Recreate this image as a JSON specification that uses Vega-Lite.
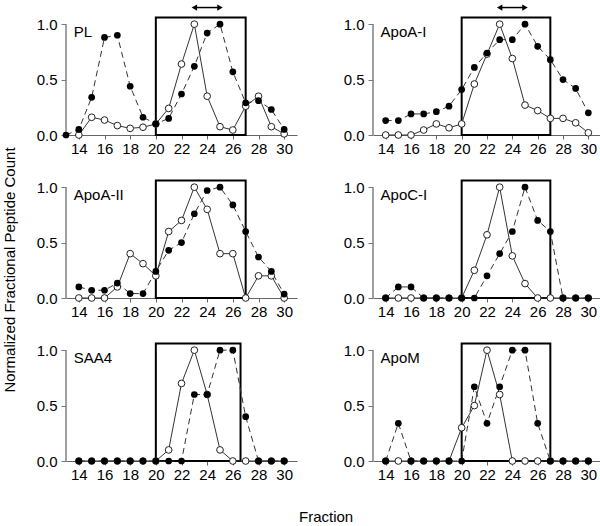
{
  "$schema": "https://vega.github.io/schema/vega-lite/v6.json",
  "background": "white",
  "padding": {"left": 3, "top": 2, "right": 1, "bottom": 0},
  "config": {
    "view": {"stroke": null},
    "font": "Liberation Sans",
    "axisX": {"tickCount": 9, "grid": false, "domainColor": "#666", "tickColor": "#666", "tickSize": 4, "labelFontSize": 15, "labelPadding": 2, "labelColor": "black", "labelFont": "Liberation Sans", "labelFlush": false},
    "axisY": {"tickCount": 3, "grid": false, "domain": false, "tickColor": "#777", "tickSize": 5, "labelFontSize": 15, "labelPadding": 4, "labelColor": "black", "labelFont": "Liberation Sans"}
  },
  "title": {"text": "Fraction", "orient": "bottom", "anchor": "middle", "fontSize": 15, "fontWeight": "normal", "font": "Liberation Sans", "color": "black", "offset": 28, "dx": 24},
  "data": {"values": [
    {"p":"PL","k":"box","x":20,"x2":27},
    {"p":"ApoA-I","k":"box","x":20,"x2":27},
    {"p":"ApoA-II","k":"box","x":20,"x2":27},
    {"p":"ApoC-I","k":"box","x":20,"x2":27},
    {"p":"SAA4","k":"box","x":20,"x2":26.6},
    {"p":"ApoM","k":"box","x":20,"x2":27},
    {"p":"PL","k":"arr","x":23,"x2":25},
    {"p":"ApoA-I","k":"arr","x":23,"x2":25},

    {"p":"PL","k":"pt","s":"f","x":13,"y":0},
    {"p":"PL","k":"pt","s":"f","x":14,"y":0.05},
    {"p":"PL","k":"pt","s":"f","x":15,"y":0.34},
    {"p":"PL","k":"pt","s":"f","x":16,"y":0.88},
    {"p":"PL","k":"pt","s":"f","x":17,"y":0.9},
    {"p":"PL","k":"pt","s":"f","x":18,"y":0.44},
    {"p":"PL","k":"pt","s":"f","x":19,"y":0.16},
    {"p":"PL","k":"pt","s":"f","x":20,"y":0.1},
    {"p":"PL","k":"pt","s":"f","x":21,"y":0.15},
    {"p":"PL","k":"pt","s":"f","x":22,"y":0.37},
    {"p":"PL","k":"pt","s":"f","x":23,"y":0.62},
    {"p":"PL","k":"pt","s":"f","x":24,"y":0.92},
    {"p":"PL","k":"pt","s":"f","x":25,"y":1},
    {"p":"PL","k":"pt","s":"f","x":26,"y":0.57},
    {"p":"PL","k":"pt","s":"f","x":27,"y":0.29},
    {"p":"PL","k":"pt","s":"f","x":28,"y":0.31},
    {"p":"PL","k":"pt","s":"f","x":29,"y":0.23},
    {"p":"PL","k":"pt","s":"f","x":30,"y":0.05},
    {"p":"PL","k":"pt","s":"o","x":14,"y":0},
    {"p":"PL","k":"pt","s":"o","x":15,"y":0.16},
    {"p":"PL","k":"pt","s":"o","x":16,"y":0.135},
    {"p":"PL","k":"pt","s":"o","x":17,"y":0.085},
    {"p":"PL","k":"pt","s":"o","x":18,"y":0.06},
    {"p":"PL","k":"pt","s":"o","x":19,"y":0.07},
    {"p":"PL","k":"pt","s":"o","x":20,"y":0.1},
    {"p":"PL","k":"pt","s":"o","x":21,"y":0.24},
    {"p":"PL","k":"pt","s":"o","x":22,"y":0.64},
    {"p":"PL","k":"pt","s":"o","x":23,"y":1},
    {"p":"PL","k":"pt","s":"o","x":24,"y":0.35},
    {"p":"PL","k":"pt","s":"o","x":25,"y":0.075},
    {"p":"PL","k":"pt","s":"o","x":26,"y":0.045},
    {"p":"PL","k":"pt","s":"o","x":27,"y":0.26},
    {"p":"PL","k":"pt","s":"o","x":28,"y":0.35},
    {"p":"PL","k":"pt","s":"o","x":29,"y":0.075},
    {"p":"PL","k":"pt","s":"o","x":30,"y":0.01},

    {"p":"ApoA-I","k":"pt","s":"f","x":14,"y":0.13},
    {"p":"ApoA-I","k":"pt","s":"f","x":15,"y":0.13},
    {"p":"ApoA-I","k":"pt","s":"f","x":16,"y":0.19},
    {"p":"ApoA-I","k":"pt","s":"f","x":17,"y":0.19},
    {"p":"ApoA-I","k":"pt","s":"f","x":18,"y":0.21},
    {"p":"ApoA-I","k":"pt","s":"f","x":19,"y":0.26},
    {"p":"ApoA-I","k":"pt","s":"f","x":20,"y":0.41},
    {"p":"ApoA-I","k":"pt","s":"f","x":21,"y":0.61},
    {"p":"ApoA-I","k":"pt","s":"f","x":22,"y":0.74},
    {"p":"ApoA-I","k":"pt","s":"f","x":23,"y":0.86},
    {"p":"ApoA-I","k":"pt","s":"f","x":24,"y":0.86},
    {"p":"ApoA-I","k":"pt","s":"f","x":25,"y":1},
    {"p":"ApoA-I","k":"pt","s":"f","x":26,"y":0.8},
    {"p":"ApoA-I","k":"pt","s":"f","x":27,"y":0.68},
    {"p":"ApoA-I","k":"pt","s":"f","x":28,"y":0.5},
    {"p":"ApoA-I","k":"pt","s":"f","x":29,"y":0.42},
    {"p":"ApoA-I","k":"pt","s":"f","x":30,"y":0.2},
    {"p":"ApoA-I","k":"pt","s":"o","x":14,"y":0},
    {"p":"ApoA-I","k":"pt","s":"o","x":15,"y":0},
    {"p":"ApoA-I","k":"pt","s":"o","x":16,"y":0},
    {"p":"ApoA-I","k":"pt","s":"o","x":17,"y":0.045},
    {"p":"ApoA-I","k":"pt","s":"o","x":18,"y":0.1},
    {"p":"ApoA-I","k":"pt","s":"o","x":19,"y":0.065},
    {"p":"ApoA-I","k":"pt","s":"o","x":20,"y":0.1},
    {"p":"ApoA-I","k":"pt","s":"o","x":21,"y":0.46},
    {"p":"ApoA-I","k":"pt","s":"o","x":22,"y":0.73},
    {"p":"ApoA-I","k":"pt","s":"o","x":23,"y":1},
    {"p":"ApoA-I","k":"pt","s":"o","x":24,"y":0.69},
    {"p":"ApoA-I","k":"pt","s":"o","x":25,"y":0.27},
    {"p":"ApoA-I","k":"pt","s":"o","x":26,"y":0.22},
    {"p":"ApoA-I","k":"pt","s":"o","x":27,"y":0.15},
    {"p":"ApoA-I","k":"pt","s":"o","x":28,"y":0.15},
    {"p":"ApoA-I","k":"pt","s":"o","x":29,"y":0.11},
    {"p":"ApoA-I","k":"pt","s":"o","x":30,"y":0.02},

    {"p":"ApoA-II","k":"pt","s":"f","x":14,"y":0.1},
    {"p":"ApoA-II","k":"pt","s":"f","x":15,"y":0.07},
    {"p":"ApoA-II","k":"pt","s":"f","x":16,"y":0.07},
    {"p":"ApoA-II","k":"pt","s":"f","x":17,"y":0.135},
    {"p":"ApoA-II","k":"pt","s":"f","x":18,"y":0.04},
    {"p":"ApoA-II","k":"pt","s":"f","x":19,"y":0.04},
    {"p":"ApoA-II","k":"pt","s":"f","x":20,"y":0.24},
    {"p":"ApoA-II","k":"pt","s":"f","x":21,"y":0.43},
    {"p":"ApoA-II","k":"pt","s":"f","x":22,"y":0.5},
    {"p":"ApoA-II","k":"pt","s":"f","x":23,"y":0.76},
    {"p":"ApoA-II","k":"pt","s":"f","x":24,"y":0.97},
    {"p":"ApoA-II","k":"pt","s":"f","x":25,"y":1},
    {"p":"ApoA-II","k":"pt","s":"f","x":26,"y":0.84},
    {"p":"ApoA-II","k":"pt","s":"f","x":27,"y":0.6},
    {"p":"ApoA-II","k":"pt","s":"f","x":28,"y":0.37},
    {"p":"ApoA-II","k":"pt","s":"f","x":29,"y":0.24},
    {"p":"ApoA-II","k":"pt","s":"f","x":30,"y":0.035},
    {"p":"ApoA-II","k":"pt","s":"o","x":14,"y":0},
    {"p":"ApoA-II","k":"pt","s":"o","x":15,"y":0},
    {"p":"ApoA-II","k":"pt","s":"o","x":16,"y":0},
    {"p":"ApoA-II","k":"pt","s":"o","x":17,"y":0.1},
    {"p":"ApoA-II","k":"pt","s":"o","x":18,"y":0.4},
    {"p":"ApoA-II","k":"pt","s":"o","x":19,"y":0.31},
    {"p":"ApoA-II","k":"pt","s":"o","x":20,"y":0.2},
    {"p":"ApoA-II","k":"pt","s":"o","x":21,"y":0.6},
    {"p":"ApoA-II","k":"pt","s":"o","x":22,"y":0.7},
    {"p":"ApoA-II","k":"pt","s":"o","x":23,"y":1},
    {"p":"ApoA-II","k":"pt","s":"o","x":24,"y":0.8},
    {"p":"ApoA-II","k":"pt","s":"o","x":25,"y":0.4},
    {"p":"ApoA-II","k":"pt","s":"o","x":26,"y":0.4},
    {"p":"ApoA-II","k":"pt","s":"o","x":27,"y":0},
    {"p":"ApoA-II","k":"pt","s":"o","x":28,"y":0.2},
    {"p":"ApoA-II","k":"pt","s":"o","x":29,"y":0.2},
    {"p":"ApoA-II","k":"pt","s":"o","x":30,"y":0},

    {"p":"ApoC-I","k":"pt","s":"f","x":14,"y":0},
    {"p":"ApoC-I","k":"pt","s":"f","x":15,"y":0.1},
    {"p":"ApoC-I","k":"pt","s":"f","x":16,"y":0.1},
    {"p":"ApoC-I","k":"pt","s":"f","x":17,"y":0},
    {"p":"ApoC-I","k":"pt","s":"f","x":18,"y":0},
    {"p":"ApoC-I","k":"pt","s":"f","x":19,"y":0},
    {"p":"ApoC-I","k":"pt","s":"f","x":20,"y":0},
    {"p":"ApoC-I","k":"pt","s":"f","x":21,"y":0},
    {"p":"ApoC-I","k":"pt","s":"f","x":22,"y":0.2},
    {"p":"ApoC-I","k":"pt","s":"f","x":23,"y":0.4},
    {"p":"ApoC-I","k":"pt","s":"f","x":24,"y":0.6},
    {"p":"ApoC-I","k":"pt","s":"f","x":25,"y":1},
    {"p":"ApoC-I","k":"pt","s":"f","x":26,"y":0.7},
    {"p":"ApoC-I","k":"pt","s":"f","x":27,"y":0.6},
    {"p":"ApoC-I","k":"pt","s":"f","x":28,"y":0},
    {"p":"ApoC-I","k":"pt","s":"f","x":29,"y":0},
    {"p":"ApoC-I","k":"pt","s":"f","x":30,"y":0},
    {"p":"ApoC-I","k":"pt","s":"o","x":14,"y":0},
    {"p":"ApoC-I","k":"pt","s":"o","x":15,"y":0},
    {"p":"ApoC-I","k":"pt","s":"o","x":16,"y":0},
    {"p":"ApoC-I","k":"pt","s":"o","x":17,"y":0},
    {"p":"ApoC-I","k":"pt","s":"o","x":18,"y":0},
    {"p":"ApoC-I","k":"pt","s":"o","x":19,"y":0},
    {"p":"ApoC-I","k":"pt","s":"o","x":20,"y":0},
    {"p":"ApoC-I","k":"pt","s":"o","x":21,"y":0.25},
    {"p":"ApoC-I","k":"pt","s":"o","x":22,"y":0.57},
    {"p":"ApoC-I","k":"pt","s":"o","x":23,"y":1},
    {"p":"ApoC-I","k":"pt","s":"o","x":24,"y":0.38},
    {"p":"ApoC-I","k":"pt","s":"o","x":25,"y":0.13},
    {"p":"ApoC-I","k":"pt","s":"o","x":26,"y":0},
    {"p":"ApoC-I","k":"pt","s":"o","x":27,"y":0},
    {"p":"ApoC-I","k":"pt","s":"o","x":28,"y":0},
    {"p":"ApoC-I","k":"pt","s":"o","x":29,"y":0},
    {"p":"ApoC-I","k":"pt","s":"o","x":30,"y":0},

    {"p":"SAA4","k":"pt","s":"f","x":14,"y":0},
    {"p":"SAA4","k":"pt","s":"f","x":15,"y":0},
    {"p":"SAA4","k":"pt","s":"f","x":16,"y":0},
    {"p":"SAA4","k":"pt","s":"f","x":17,"y":0},
    {"p":"SAA4","k":"pt","s":"f","x":18,"y":0},
    {"p":"SAA4","k":"pt","s":"f","x":19,"y":0},
    {"p":"SAA4","k":"pt","s":"f","x":20,"y":0},
    {"p":"SAA4","k":"pt","s":"f","x":21,"y":0},
    {"p":"SAA4","k":"pt","s":"f","x":22,"y":0},
    {"p":"SAA4","k":"pt","s":"f","x":23,"y":0.6},
    {"p":"SAA4","k":"pt","s":"f","x":24,"y":0.6},
    {"p":"SAA4","k":"pt","s":"f","x":25,"y":1},
    {"p":"SAA4","k":"pt","s":"f","x":26,"y":1},
    {"p":"SAA4","k":"pt","s":"f","x":27,"y":0.4},
    {"p":"SAA4","k":"pt","s":"f","x":28,"y":0},
    {"p":"SAA4","k":"pt","s":"f","x":29,"y":0},
    {"p":"SAA4","k":"pt","s":"f","x":30,"y":0},
    {"p":"SAA4","k":"pt","s":"o","x":14,"y":0},
    {"p":"SAA4","k":"pt","s":"o","x":15,"y":0},
    {"p":"SAA4","k":"pt","s":"o","x":16,"y":0},
    {"p":"SAA4","k":"pt","s":"o","x":17,"y":0},
    {"p":"SAA4","k":"pt","s":"o","x":18,"y":0},
    {"p":"SAA4","k":"pt","s":"o","x":19,"y":0},
    {"p":"SAA4","k":"pt","s":"o","x":20,"y":0},
    {"p":"SAA4","k":"pt","s":"o","x":21,"y":0.1},
    {"p":"SAA4","k":"pt","s":"o","x":22,"y":0.7},
    {"p":"SAA4","k":"pt","s":"o","x":23,"y":1},
    {"p":"SAA4","k":"pt","s":"o","x":24,"y":0.6},
    {"p":"SAA4","k":"pt","s":"o","x":25,"y":0.1},
    {"p":"SAA4","k":"pt","s":"o","x":26,"y":0},
    {"p":"SAA4","k":"pt","s":"o","x":27,"y":0},
    {"p":"SAA4","k":"pt","s":"o","x":28,"y":0},
    {"p":"SAA4","k":"pt","s":"o","x":29,"y":0},
    {"p":"SAA4","k":"pt","s":"o","x":30,"y":0},

    {"p":"ApoM","k":"pt","s":"f","x":14,"y":0},
    {"p":"ApoM","k":"pt","s":"f","x":15,"y":0.34},
    {"p":"ApoM","k":"pt","s":"f","x":16,"y":0},
    {"p":"ApoM","k":"pt","s":"f","x":17,"y":0},
    {"p":"ApoM","k":"pt","s":"f","x":18,"y":0},
    {"p":"ApoM","k":"pt","s":"f","x":19,"y":0},
    {"p":"ApoM","k":"pt","s":"f","x":20,"y":0},
    {"p":"ApoM","k":"pt","s":"f","x":21,"y":0.67},
    {"p":"ApoM","k":"pt","s":"f","x":22,"y":0.34},
    {"p":"ApoM","k":"pt","s":"f","x":23,"y":0.67},
    {"p":"ApoM","k":"pt","s":"f","x":24,"y":1},
    {"p":"ApoM","k":"pt","s":"f","x":25,"y":1},
    {"p":"ApoM","k":"pt","s":"f","x":26,"y":0.34},
    {"p":"ApoM","k":"pt","s":"f","x":27,"y":0},
    {"p":"ApoM","k":"pt","s":"f","x":28,"y":0},
    {"p":"ApoM","k":"pt","s":"f","x":29,"y":0},
    {"p":"ApoM","k":"pt","s":"f","x":30,"y":0},
    {"p":"ApoM","k":"pt","s":"o","x":14,"y":0},
    {"p":"ApoM","k":"pt","s":"o","x":15,"y":0},
    {"p":"ApoM","k":"pt","s":"o","x":16,"y":0},
    {"p":"ApoM","k":"pt","s":"o","x":17,"y":0},
    {"p":"ApoM","k":"pt","s":"o","x":18,"y":0},
    {"p":"ApoM","k":"pt","s":"o","x":19,"y":0},
    {"p":"ApoM","k":"pt","s":"o","x":20,"y":0.3},
    {"p":"ApoM","k":"pt","s":"o","x":21,"y":0.5},
    {"p":"ApoM","k":"pt","s":"o","x":22,"y":1},
    {"p":"ApoM","k":"pt","s":"o","x":23,"y":0.6},
    {"p":"ApoM","k":"pt","s":"o","x":24,"y":0},
    {"p":"ApoM","k":"pt","s":"o","x":25,"y":0},
    {"p":"ApoM","k":"pt","s":"o","x":26,"y":0},
    {"p":"ApoM","k":"pt","s":"o","x":27,"y":0},
    {"p":"ApoM","k":"pt","s":"o","x":28,"y":0},
    {"p":"ApoM","k":"pt","s":"o","x":29,"y":0},
    {"p":"ApoM","k":"pt","s":"o","x":30,"y":0}
  ]},
  "vconcat": [
    {
      "title": {"text": "Normalized Fractional Peptide Count", "orient": "left", "anchor": "middle", "fontSize": 15, "fontWeight": "normal", "font": "Liberation Sans", "color": "black", "offset": 18, "dx": -28},
      "columns": 2,
      "spacing": {"row": 30, "column": 76},
      "bounds": "flush",
      "concat": [
        {"width": 231, "height": 133, "transform": [{"filter": "datum.p == 'PL'"}], "layer": [
          {"transform": [{"filter": "datum.k == 'box'"}], "mark": {"type": "rule", "color": "#808080", "strokeWidth": 1.5}, "encoding": {"x": {"datum": 13, "type": "quantitative", "scale": {"domain": [13, 31], "nice": false, "zero": false}, "title": null}, "y": {"datum": 0, "type": "quantitative", "scale": {"domain": [0, 1.2], "nice": false, "zero": false}, "title": null}, "y2": {"datum": 1}}},
          {"transform": [{"filter": "datum.k == 'box'"}], "mark": {"type": "rect", "fillOpacity": 0, "stroke": "black", "strokeWidth": 2}, "encoding": {"x": {"field": "x", "type": "quantitative", "scale": {"domain": [13, 31], "nice": false, "zero": false}, "title": null}, "x2": {"field": "x2"}, "y": {"datum": 0, "type": "quantitative", "scale": {"domain": [0, 1.2], "nice": false, "zero": false}, "title": null}, "y2": {"datum": 1.06}}},
          {"transform": [{"filter": "datum.k == 'box'"}], "mark": {"type": "text", "align": "left", "baseline": "top", "fontSize": 15, "font": "Liberation Sans", "color": "black"}, "encoding": {"x": {"datum": 13.6, "type": "quantitative", "scale": {"domain": [13, 31], "nice": false, "zero": false}, "title": null}, "y": {"datum": 0.99, "type": "quantitative", "scale": {"domain": [0, 1.2], "nice": false, "zero": false}, "title": null}, "text": {"field": "p"}}},
          {"transform": [{"filter": "datum.k == 'arr'"}], "mark": {"type": "rule", "color": "black", "strokeWidth": 1.5}, "encoding": {"x": {"field": "x", "type": "quantitative", "scale": {"domain": [13, 31], "nice": false, "zero": false}, "title": null}, "x2": {"field": "x2"}, "y": {"datum": 1.15, "type": "quantitative", "scale": {"domain": [0, 1.2], "nice": false, "zero": false}, "title": null}}},
          {"transform": [{"filter": "datum.k == 'arr'"}], "mark": {"type": "point", "shape": "triangle-left", "filled": true, "color": "black", "size": 40, "opacity": 1}, "encoding": {"x": {"field": "x", "type": "quantitative", "scale": {"domain": [13, 31], "nice": false, "zero": false}, "title": null}, "y": {"datum": 1.15, "type": "quantitative", "scale": {"domain": [0, 1.2], "nice": false, "zero": false}, "title": null}}},
          {"transform": [{"filter": "datum.k == 'arr'"}], "mark": {"type": "point", "shape": "triangle-right", "filled": true, "color": "black", "size": 40, "opacity": 1}, "encoding": {"x": {"field": "x2", "type": "quantitative", "scale": {"domain": [13, 31], "nice": false, "zero": false}, "title": null}, "y": {"datum": 1.15, "type": "quantitative", "scale": {"domain": [0, 1.2], "nice": false, "zero": false}, "title": null}}},
          {"transform": [{"filter": "datum.k == 'pt' && datum.s == 'o'"}], "mark": {"type": "line", "color": "#333", "strokeWidth": 1}, "encoding": {"x": {"field": "x", "type": "quantitative", "scale": {"domain": [13, 31], "nice": false, "zero": false}, "title": null}, "y": {"field": "y", "type": "quantitative", "scale": {"domain": [0, 1.2], "nice": false, "zero": false}, "title": null}}},
          {"transform": [{"filter": "datum.k == 'pt' && datum.s == 'f'"}], "mark": {"type": "line", "color": "#333", "strokeWidth": 1, "strokeDash": [6, 4]}, "encoding": {"x": {"field": "x", "type": "quantitative", "scale": {"domain": [13, 31], "nice": false, "zero": false}, "title": null}, "y": {"field": "y", "type": "quantitative", "scale": {"domain": [0, 1.2], "nice": false, "zero": false}, "title": null}}},
          {"transform": [{"filter": "datum.k == 'pt' && datum.s == 'o'"}], "mark": {"type": "point", "shape": "circle", "filled": true, "fill": "white", "stroke": "#222", "strokeWidth": 1, "size": 45, "opacity": 1}, "encoding": {"x": {"field": "x", "type": "quantitative", "scale": {"domain": [13, 31], "nice": false, "zero": false}, "title": null}, "y": {"field": "y", "type": "quantitative", "scale": {"domain": [0, 1.2], "nice": false, "zero": false}, "title": null}}},
          {"transform": [{"filter": "datum.k == 'pt' && datum.s == 'f'"}], "mark": {"type": "point", "shape": "circle", "filled": true, "color": "black", "size": 45, "opacity": 1}, "encoding": {"x": {"field": "x", "type": "quantitative", "scale": {"domain": [13, 31], "nice": false, "zero": false}, "title": null}, "y": {"field": "y", "type": "quantitative", "scale": {"domain": [0, 1.2], "nice": false, "zero": false}, "title": null}}}
        ]},
        {"width": 228, "height": 133, "transform": [{"filter": "datum.p == 'ApoA-I'"}], "layer": [
          {"transform": [{"filter": "datum.k == 'box'"}], "mark": {"type": "rule", "color": "#808080", "strokeWidth": 1.5}, "encoding": {"x": {"datum": 13, "type": "quantitative", "scale": {"domain": [13, 31], "nice": false, "zero": false}, "title": null}, "y": {"datum": 0, "type": "quantitative", "scale": {"domain": [0, 1.2], "nice": false, "zero": false}, "title": null}, "y2": {"datum": 1}}},
          {"transform": [{"filter": "datum.k == 'box'"}], "mark": {"type": "rect", "fillOpacity": 0, "stroke": "black", "strokeWidth": 2}, "encoding": {"x": {"field": "x", "type": "quantitative", "scale": {"domain": [13, 31], "nice": false, "zero": false}, "title": null}, "x2": {"field": "x2"}, "y": {"datum": 0, "type": "quantitative", "scale": {"domain": [0, 1.2], "nice": false, "zero": false}, "title": null}, "y2": {"datum": 1.06}}},
          {"transform": [{"filter": "datum.k == 'box'"}], "mark": {"type": "text", "align": "left", "baseline": "top", "fontSize": 15, "font": "Liberation Sans", "color": "black"}, "encoding": {"x": {"datum": 13.6, "type": "quantitative", "scale": {"domain": [13, 31], "nice": false, "zero": false}, "title": null}, "y": {"datum": 0.99, "type": "quantitative", "scale": {"domain": [0, 1.2], "nice": false, "zero": false}, "title": null}, "text": {"field": "p"}}},
          {"transform": [{"filter": "datum.k == 'arr'"}], "mark": {"type": "rule", "color": "black", "strokeWidth": 1.5}, "encoding": {"x": {"field": "x", "type": "quantitative", "scale": {"domain": [13, 31], "nice": false, "zero": false}, "title": null}, "x2": {"field": "x2"}, "y": {"datum": 1.15, "type": "quantitative", "scale": {"domain": [0, 1.2], "nice": false, "zero": false}, "title": null}}},
          {"transform": [{"filter": "datum.k == 'arr'"}], "mark": {"type": "point", "shape": "triangle-left", "filled": true, "color": "black", "size": 40, "opacity": 1}, "encoding": {"x": {"field": "x", "type": "quantitative", "scale": {"domain": [13, 31], "nice": false, "zero": false}, "title": null}, "y": {"datum": 1.15, "type": "quantitative", "scale": {"domain": [0, 1.2], "nice": false, "zero": false}, "title": null}}},
          {"transform": [{"filter": "datum.k == 'arr'"}], "mark": {"type": "point", "shape": "triangle-right", "filled": true, "color": "black", "size": 40, "opacity": 1}, "encoding": {"x": {"field": "x2", "type": "quantitative", "scale": {"domain": [13, 31], "nice": false, "zero": false}, "title": null}, "y": {"datum": 1.15, "type": "quantitative", "scale": {"domain": [0, 1.2], "nice": false, "zero": false}, "title": null}}},
          {"transform": [{"filter": "datum.k == 'pt' && datum.s == 'o'"}], "mark": {"type": "line", "color": "#333", "strokeWidth": 1}, "encoding": {"x": {"field": "x", "type": "quantitative", "scale": {"domain": [13, 31], "nice": false, "zero": false}, "title": null}, "y": {"field": "y", "type": "quantitative", "scale": {"domain": [0, 1.2], "nice": false, "zero": false}, "title": null}}},
          {"transform": [{"filter": "datum.k == 'pt' && datum.s == 'f'"}], "mark": {"type": "line", "color": "#333", "strokeWidth": 1, "strokeDash": [6, 4]}, "encoding": {"x": {"field": "x", "type": "quantitative", "scale": {"domain": [13, 31], "nice": false, "zero": false}, "title": null}, "y": {"field": "y", "type": "quantitative", "scale": {"domain": [0, 1.2], "nice": false, "zero": false}, "title": null}}},
          {"transform": [{"filter": "datum.k == 'pt' && datum.s == 'o'"}], "mark": {"type": "point", "shape": "circle", "filled": true, "fill": "white", "stroke": "#222", "strokeWidth": 1, "size": 45, "opacity": 1}, "encoding": {"x": {"field": "x", "type": "quantitative", "scale": {"domain": [13, 31], "nice": false, "zero": false}, "title": null}, "y": {"field": "y", "type": "quantitative", "scale": {"domain": [0, 1.2], "nice": false, "zero": false}, "title": null}}},
          {"transform": [{"filter": "datum.k == 'pt' && datum.s == 'f'"}], "mark": {"type": "point", "shape": "circle", "filled": true, "color": "black", "size": 45, "opacity": 1}, "encoding": {"x": {"field": "x", "type": "quantitative", "scale": {"domain": [13, 31], "nice": false, "zero": false}, "title": null}, "y": {"field": "y", "type": "quantitative", "scale": {"domain": [0, 1.2], "nice": false, "zero": false}, "title": null}}}
        ]},
        {"width": 231, "height": 133, "transform": [{"filter": "datum.p == 'ApoA-II'"}], "layer": [
          {"transform": [{"filter": "datum.k == 'box'"}], "mark": {"type": "rule", "color": "#808080", "strokeWidth": 1.5}, "encoding": {"x": {"datum": 13, "type": "quantitative", "scale": {"domain": [13, 31], "nice": false, "zero": false}, "title": null}, "y": {"datum": 0, "type": "quantitative", "scale": {"domain": [0, 1.2], "nice": false, "zero": false}, "title": null}, "y2": {"datum": 1}}},
          {"transform": [{"filter": "datum.k == 'box'"}], "mark": {"type": "rect", "fillOpacity": 0, "stroke": "black", "strokeWidth": 2}, "encoding": {"x": {"field": "x", "type": "quantitative", "scale": {"domain": [13, 31], "nice": false, "zero": false}, "title": null}, "x2": {"field": "x2"}, "y": {"datum": 0, "type": "quantitative", "scale": {"domain": [0, 1.2], "nice": false, "zero": false}, "title": null}, "y2": {"datum": 1.06}}},
          {"transform": [{"filter": "datum.k == 'box'"}], "mark": {"type": "text", "align": "left", "baseline": "top", "fontSize": 15, "font": "Liberation Sans", "color": "black"}, "encoding": {"x": {"datum": 13.6, "type": "quantitative", "scale": {"domain": [13, 31], "nice": false, "zero": false}, "title": null}, "y": {"datum": 0.99, "type": "quantitative", "scale": {"domain": [0, 1.2], "nice": false, "zero": false}, "title": null}, "text": {"field": "p"}}},
          {"transform": [{"filter": "datum.k == 'pt' && datum.s == 'o'"}], "mark": {"type": "line", "color": "#333", "strokeWidth": 1}, "encoding": {"x": {"field": "x", "type": "quantitative", "scale": {"domain": [13, 31], "nice": false, "zero": false}, "title": null}, "y": {"field": "y", "type": "quantitative", "scale": {"domain": [0, 1.2], "nice": false, "zero": false}, "title": null}}},
          {"transform": [{"filter": "datum.k == 'pt' && datum.s == 'f'"}], "mark": {"type": "line", "color": "#333", "strokeWidth": 1, "strokeDash": [6, 4]}, "encoding": {"x": {"field": "x", "type": "quantitative", "scale": {"domain": [13, 31], "nice": false, "zero": false}, "title": null}, "y": {"field": "y", "type": "quantitative", "scale": {"domain": [0, 1.2], "nice": false, "zero": false}, "title": null}}},
          {"transform": [{"filter": "datum.k == 'pt' && datum.s == 'o'"}], "mark": {"type": "point", "shape": "circle", "filled": true, "fill": "white", "stroke": "#222", "strokeWidth": 1, "size": 45, "opacity": 1}, "encoding": {"x": {"field": "x", "type": "quantitative", "scale": {"domain": [13, 31], "nice": false, "zero": false}, "title": null}, "y": {"field": "y", "type": "quantitative", "scale": {"domain": [0, 1.2], "nice": false, "zero": false}, "title": null}}},
          {"transform": [{"filter": "datum.k == 'pt' && datum.s == 'f'"}], "mark": {"type": "point", "shape": "circle", "filled": true, "color": "black", "size": 45, "opacity": 1}, "encoding": {"x": {"field": "x", "type": "quantitative", "scale": {"domain": [13, 31], "nice": false, "zero": false}, "title": null}, "y": {"field": "y", "type": "quantitative", "scale": {"domain": [0, 1.2], "nice": false, "zero": false}, "title": null}}}
        ]},
        {"width": 228, "height": 133, "transform": [{"filter": "datum.p == 'ApoC-I'"}], "layer": [
          {"transform": [{"filter": "datum.k == 'box'"}], "mark": {"type": "rule", "color": "#808080", "strokeWidth": 1.5}, "encoding": {"x": {"datum": 13, "type": "quantitative", "scale": {"domain": [13, 31], "nice": false, "zero": false}, "title": null}, "y": {"datum": 0, "type": "quantitative", "scale": {"domain": [0, 1.2], "nice": false, "zero": false}, "title": null}, "y2": {"datum": 1}}},
          {"transform": [{"filter": "datum.k == 'box'"}], "mark": {"type": "rect", "fillOpacity": 0, "stroke": "black", "strokeWidth": 2}, "encoding": {"x": {"field": "x", "type": "quantitative", "scale": {"domain": [13, 31], "nice": false, "zero": false}, "title": null}, "x2": {"field": "x2"}, "y": {"datum": 0, "type": "quantitative", "scale": {"domain": [0, 1.2], "nice": false, "zero": false}, "title": null}, "y2": {"datum": 1.06}}},
          {"transform": [{"filter": "datum.k == 'box'"}], "mark": {"type": "text", "align": "left", "baseline": "top", "fontSize": 15, "font": "Liberation Sans", "color": "black"}, "encoding": {"x": {"datum": 13.6, "type": "quantitative", "scale": {"domain": [13, 31], "nice": false, "zero": false}, "title": null}, "y": {"datum": 0.99, "type": "quantitative", "scale": {"domain": [0, 1.2], "nice": false, "zero": false}, "title": null}, "text": {"field": "p"}}},
          {"transform": [{"filter": "datum.k == 'pt' && datum.s == 'o'"}], "mark": {"type": "line", "color": "#333", "strokeWidth": 1}, "encoding": {"x": {"field": "x", "type": "quantitative", "scale": {"domain": [13, 31], "nice": false, "zero": false}, "title": null}, "y": {"field": "y", "type": "quantitative", "scale": {"domain": [0, 1.2], "nice": false, "zero": false}, "title": null}}},
          {"transform": [{"filter": "datum.k == 'pt' && datum.s == 'f'"}], "mark": {"type": "line", "color": "#333", "strokeWidth": 1, "strokeDash": [6, 4]}, "encoding": {"x": {"field": "x", "type": "quantitative", "scale": {"domain": [13, 31], "nice": false, "zero": false}, "title": null}, "y": {"field": "y", "type": "quantitative", "scale": {"domain": [0, 1.2], "nice": false, "zero": false}, "title": null}}},
          {"transform": [{"filter": "datum.k == 'pt' && datum.s == 'o'"}], "mark": {"type": "point", "shape": "circle", "filled": true, "fill": "white", "stroke": "#222", "strokeWidth": 1, "size": 45, "opacity": 1}, "encoding": {"x": {"field": "x", "type": "quantitative", "scale": {"domain": [13, 31], "nice": false, "zero": false}, "title": null}, "y": {"field": "y", "type": "quantitative", "scale": {"domain": [0, 1.2], "nice": false, "zero": false}, "title": null}}},
          {"transform": [{"filter": "datum.k == 'pt' && datum.s == 'f'"}], "mark": {"type": "point", "shape": "circle", "filled": true, "color": "black", "size": 45, "opacity": 1}, "encoding": {"x": {"field": "x", "type": "quantitative", "scale": {"domain": [13, 31], "nice": false, "zero": false}, "title": null}, "y": {"field": "y", "type": "quantitative", "scale": {"domain": [0, 1.2], "nice": false, "zero": false}, "title": null}}}
        ]},
        {"width": 231, "height": 133, "transform": [{"filter": "datum.p == 'SAA4'"}], "layer": [
          {"transform": [{"filter": "datum.k == 'box'"}], "mark": {"type": "rule", "color": "#808080", "strokeWidth": 1.5}, "encoding": {"x": {"datum": 13, "type": "quantitative", "scale": {"domain": [13, 31], "nice": false, "zero": false}, "title": null}, "y": {"datum": 0, "type": "quantitative", "scale": {"domain": [0, 1.2], "nice": false, "zero": false}, "title": null}, "y2": {"datum": 1}}},
          {"transform": [{"filter": "datum.k == 'box'"}], "mark": {"type": "rect", "fillOpacity": 0, "stroke": "black", "strokeWidth": 2}, "encoding": {"x": {"field": "x", "type": "quantitative", "scale": {"domain": [13, 31], "nice": false, "zero": false}, "title": null}, "x2": {"field": "x2"}, "y": {"datum": 0, "type": "quantitative", "scale": {"domain": [0, 1.2], "nice": false, "zero": false}, "title": null}, "y2": {"datum": 1.06}}},
          {"transform": [{"filter": "datum.k == 'box'"}], "mark": {"type": "text", "align": "left", "baseline": "top", "fontSize": 15, "font": "Liberation Sans", "color": "black"}, "encoding": {"x": {"datum": 13.6, "type": "quantitative", "scale": {"domain": [13, 31], "nice": false, "zero": false}, "title": null}, "y": {"datum": 0.99, "type": "quantitative", "scale": {"domain": [0, 1.2], "nice": false, "zero": false}, "title": null}, "text": {"field": "p"}}},
          {"transform": [{"filter": "datum.k == 'pt' && datum.s == 'o'"}], "mark": {"type": "line", "color": "#333", "strokeWidth": 1}, "encoding": {"x": {"field": "x", "type": "quantitative", "scale": {"domain": [13, 31], "nice": false, "zero": false}, "title": null}, "y": {"field": "y", "type": "quantitative", "scale": {"domain": [0, 1.2], "nice": false, "zero": false}, "title": null}}},
          {"transform": [{"filter": "datum.k == 'pt' && datum.s == 'f'"}], "mark": {"type": "line", "color": "#333", "strokeWidth": 1, "strokeDash": [6, 4]}, "encoding": {"x": {"field": "x", "type": "quantitative", "scale": {"domain": [13, 31], "nice": false, "zero": false}, "title": null}, "y": {"field": "y", "type": "quantitative", "scale": {"domain": [0, 1.2], "nice": false, "zero": false}, "title": null}}},
          {"transform": [{"filter": "datum.k == 'pt' && datum.s == 'o'"}], "mark": {"type": "point", "shape": "circle", "filled": true, "fill": "white", "stroke": "#222", "strokeWidth": 1, "size": 45, "opacity": 1}, "encoding": {"x": {"field": "x", "type": "quantitative", "scale": {"domain": [13, 31], "nice": false, "zero": false}, "title": null}, "y": {"field": "y", "type": "quantitative", "scale": {"domain": [0, 1.2], "nice": false, "zero": false}, "title": null}}},
          {"transform": [{"filter": "datum.k == 'pt' && datum.s == 'f'"}], "mark": {"type": "point", "shape": "circle", "filled": true, "color": "black", "size": 45, "opacity": 1}, "encoding": {"x": {"field": "x", "type": "quantitative", "scale": {"domain": [13, 31], "nice": false, "zero": false}, "title": null}, "y": {"field": "y", "type": "quantitative", "scale": {"domain": [0, 1.2], "nice": false, "zero": false}, "title": null}}}
        ]},
        {"width": 228, "height": 133, "transform": [{"filter": "datum.p == 'ApoM'"}], "layer": [
          {"transform": [{"filter": "datum.k == 'box'"}], "mark": {"type": "rule", "color": "#808080", "strokeWidth": 1.5}, "encoding": {"x": {"datum": 13, "type": "quantitative", "scale": {"domain": [13, 31], "nice": false, "zero": false}, "title": null}, "y": {"datum": 0, "type": "quantitative", "scale": {"domain": [0, 1.2], "nice": false, "zero": false}, "title": null}, "y2": {"datum": 1}}},
          {"transform": [{"filter": "datum.k == 'box'"}], "mark": {"type": "rect", "fillOpacity": 0, "stroke": "black", "strokeWidth": 2}, "encoding": {"x": {"field": "x", "type": "quantitative", "scale": {"domain": [13, 31], "nice": false, "zero": false}, "title": null}, "x2": {"field": "x2"}, "y": {"datum": 0, "type": "quantitative", "scale": {"domain": [0, 1.2], "nice": false, "zero": false}, "title": null}, "y2": {"datum": 1.06}}},
          {"transform": [{"filter": "datum.k == 'box'"}], "mark": {"type": "text", "align": "left", "baseline": "top", "fontSize": 15, "font": "Liberation Sans", "color": "black"}, "encoding": {"x": {"datum": 13.6, "type": "quantitative", "scale": {"domain": [13, 31], "nice": false, "zero": false}, "title": null}, "y": {"datum": 0.99, "type": "quantitative", "scale": {"domain": [0, 1.2], "nice": false, "zero": false}, "title": null}, "text": {"field": "p"}}},
          {"transform": [{"filter": "datum.k == 'pt' && datum.s == 'o'"}], "mark": {"type": "line", "color": "#333", "strokeWidth": 1}, "encoding": {"x": {"field": "x", "type": "quantitative", "scale": {"domain": [13, 31], "nice": false, "zero": false}, "title": null}, "y": {"field": "y", "type": "quantitative", "scale": {"domain": [0, 1.2], "nice": false, "zero": false}, "title": null}}},
          {"transform": [{"filter": "datum.k == 'pt' && datum.s == 'f'"}], "mark": {"type": "line", "color": "#333", "strokeWidth": 1, "strokeDash": [6, 4]}, "encoding": {"x": {"field": "x", "type": "quantitative", "scale": {"domain": [13, 31], "nice": false, "zero": false}, "title": null}, "y": {"field": "y", "type": "quantitative", "scale": {"domain": [0, 1.2], "nice": false, "zero": false}, "title": null}}},
          {"transform": [{"filter": "datum.k == 'pt' && datum.s == 'o'"}], "mark": {"type": "point", "shape": "circle", "filled": true, "fill": "white", "stroke": "#222", "strokeWidth": 1, "size": 45, "opacity": 1}, "encoding": {"x": {"field": "x", "type": "quantitative", "scale": {"domain": [13, 31], "nice": false, "zero": false}, "title": null}, "y": {"field": "y", "type": "quantitative", "scale": {"domain": [0, 1.2], "nice": false, "zero": false}, "title": null}}},
          {"transform": [{"filter": "datum.k == 'pt' && datum.s == 'f'"}], "mark": {"type": "point", "shape": "circle", "filled": true, "color": "black", "size": 45, "opacity": 1}, "encoding": {"x": {"field": "x", "type": "quantitative", "scale": {"domain": [13, 31], "nice": false, "zero": false}, "title": null}, "y": {"field": "y", "type": "quantitative", "scale": {"domain": [0, 1.2], "nice": false, "zero": false}, "title": null}}}
        ]}
      ]
    }
  ]
}
